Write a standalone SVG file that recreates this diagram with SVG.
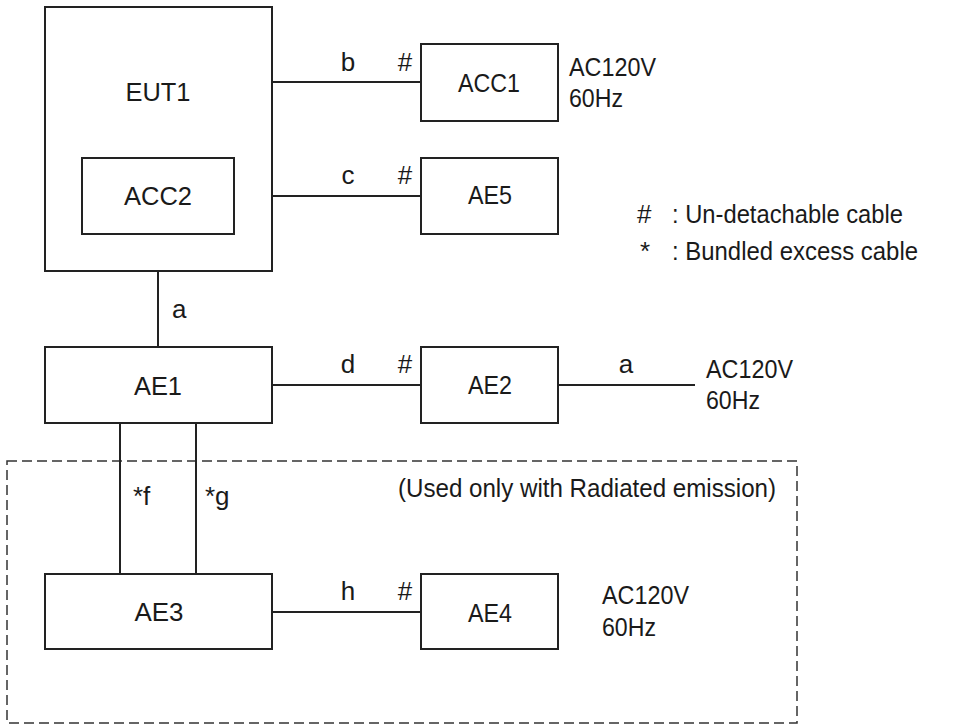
<svg xmlns="http://www.w3.org/2000/svg" width="977" height="724" viewBox="0 0 977 724">
<style>
rect.box{fill:#fff;stroke:#222;stroke-width:2}
line.w{stroke:#222;stroke-width:2}
text{font-family:"Liberation Sans",Arial,sans-serif;font-size:26px;fill:#1a1a1a}
text.c{text-anchor:middle}
</style>
<rect width="977" height="724" fill="#fff"/>
<rect x="7" y="461" width="790" height="262" fill="none" stroke="#333" stroke-width="1.5" stroke-dasharray="10 5"/>
<text x="398" y="497" textLength="378" lengthAdjust="spacingAndGlyphs">(Used only with Radiated emission)</text>
<g id="connectors">
<line class="w" x1="272" y1="82" x2="421" y2="82"/>
<line class="w" x1="272" y1="196" x2="421" y2="196"/>
<line class="w" x1="158" y1="271" x2="158" y2="347"/>
<line class="w" x1="272" y1="385" x2="421" y2="385"/>
<line class="w" x1="558" y1="385" x2="695" y2="385"/>
<line class="w" x1="120" y1="423" x2="120" y2="574"/>
<line class="w" x1="196" y1="423" x2="196" y2="574"/>
<line class="w" x1="272" y1="612" x2="421" y2="612"/>
<text class="c" x="348" y="71">b</text>
<text class="c" x="405" y="71">#</text>
<text class="c" x="348" y="184">c</text>
<text class="c" x="405" y="184">#</text>
<text x="172" y="318">a</text>
<text class="c" x="348" y="373">d</text>
<text class="c" x="405" y="373">#</text>
<text class="c" x="626" y="373">a</text>
<text x="133" y="505">*f</text>
<text x="205" y="505">*g</text>
<text class="c" x="348" y="600">h</text>
<text class="c" x="405" y="600">#</text>
</g>
<g id="EUT1">
<rect class="box" x="45" y="7" width="227" height="264"/>
<text class="c" x="158" y="101" textLength="65" lengthAdjust="spacingAndGlyphs">EUT1</text>
</g>
<g id="ACC2">
<rect class="box" x="82" y="158" width="152" height="76"/>
<text class="c" x="158" y="205" textLength="68" lengthAdjust="spacingAndGlyphs">ACC2</text>
</g>
<g id="ACC1">
<rect class="box" x="421" y="44" width="137" height="77"/>
<text class="c" x="489" y="92" textLength="62" lengthAdjust="spacingAndGlyphs">ACC1</text>
</g>
<g id="AE5">
<rect class="box" x="421" y="158" width="137" height="76"/>
<text class="c" x="490" y="204" textLength="44" lengthAdjust="spacingAndGlyphs">AE5</text>
</g>
<g id="AE1">
<rect class="box" x="45" y="347" width="227" height="76"/>
<text class="c" x="158" y="395" textLength="48" lengthAdjust="spacingAndGlyphs">AE1</text>
</g>
<g id="AE2">
<rect class="box" x="421" y="347" width="137" height="76"/>
<text class="c" x="490" y="394" textLength="44" lengthAdjust="spacingAndGlyphs">AE2</text>
</g>
<g id="AE3">
<rect class="box" x="45" y="574" width="227" height="75"/>
<text class="c" x="159" y="621" textLength="49" lengthAdjust="spacingAndGlyphs">AE3</text>
</g>
<g id="AE4">
<rect class="box" x="421" y="574" width="137" height="75"/>
<text class="c" x="490" y="622" textLength="44" lengthAdjust="spacingAndGlyphs">AE4</text>
</g>
<g id="power-labels">
<text x="569" y="76" textLength="87" lengthAdjust="spacingAndGlyphs">AC120V</text>
<text x="569" y="107" textLength="54" lengthAdjust="spacingAndGlyphs">60Hz</text>
<text x="706" y="378" textLength="87" lengthAdjust="spacingAndGlyphs">AC120V</text>
<text x="706" y="409" textLength="54" lengthAdjust="spacingAndGlyphs">60Hz</text>
<text x="602" y="604" textLength="87" lengthAdjust="spacingAndGlyphs">AC120V</text>
<text x="602" y="636" textLength="54" lengthAdjust="spacingAndGlyphs">60Hz</text>
</g>
<g id="legend">
<text x="637" y="223">#</text>
<text x="672" y="223" textLength="231" lengthAdjust="spacingAndGlyphs">: Un-detachable cable</text>
<text x="640" y="260">*</text>
<text x="672" y="260" textLength="246" lengthAdjust="spacingAndGlyphs">: Bundled excess cable</text>
</g>
</svg>
